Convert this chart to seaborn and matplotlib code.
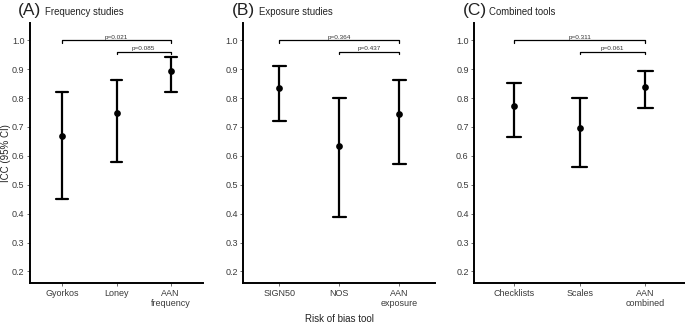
import numpy as np
import pandas as pd
import seaborn as sns
import matplotlib.pyplot as plt

# ------------------------------------------------------------
# Data (ICC with 95% CI)
# ------------------------------------------------------------
freq_tools = ["Gyorkos", "Loney", "AAN\nfrequency"]
freq_icc = [0.669, 0.747, 0.893]
freq_lo = [0.450, 0.580, 0.822]
freq_hi = [0.822, 0.864, 0.941]
freq_p = ["p=0.021", "p=0.085"]

expo_tools = ["SIGN50", "NOS", "AAN\nexposure"]
expo_icc = [0.835, 0.634, 0.744]
expo_lo = [0.720, 0.387, 0.571]
expo_hi = [0.912, 0.801, 0.863]
expo_p = ["p=0.364", "p=0.437"]

comb_tools = ["Checklists", "Scales", "AAN\ncombined"]
comb_icc = [0.772, 0.698, 0.837]
comb_lo = [0.665, 0.561, 0.765]
comb_hi = [0.852, 0.801, 0.894]
comb_p = ["p=0.311", "p=0.061"]

panels = [
    ("(A)", "Frequency studies", freq_tools, freq_icc, freq_lo, freq_hi, freq_p),
    ("(B)", "Exposure studies", expo_tools, expo_icc, expo_lo, expo_hi, expo_p),
    ("(C)", "Combined tools", comb_tools, comb_icc, comb_lo, comb_hi, comb_p),
]

# axes boxes in figure fraction (panels get wider left to right)
boxes = [
    [0.0438, 0.123, 0.2526, 0.807],
    [0.3552, 0.123, 0.2799, 0.807],
    [0.6924, 0.123, 0.3076, 0.807],
]
title_x = [0.026, 0.339, 0.675]

sns.set_theme(style="white")
plt.rcParams["font.family"] = ["Liberation Sans", "DejaVu Sans"]

fig = plt.figure(figsize=(6.85, 3.23), dpi=100)

for i, (tag, name, tools, icc, lo, hi, pvals) in enumerate(panels):
    ax = fig.add_axes(boxes[i])

    # long table: lower, estimate, upper per tool -> median = estimate, range = CI
    df = pd.DataFrame({
        "tool": np.repeat(tools, 3),
        "value": np.ravel(np.column_stack([lo, icc, hi])),
    })

    sns.pointplot(
        data=df, x="tool", y="value", order=tools,
        estimator="median", errorbar=lambda v: (v.min(), v.max()),
        linestyle="none", color="black", capsize=0.22,
        markersize=2.8, err_kws={"linewidth": 1.6}, ax=ax,
    )

    # significance brackets
    for (x0, x1), yb, lab in zip([(0, 2), (1, 2)], [1.0, 0.96], pvals):
        tip = 0.008
        ax.plot([x0, x0, x1, x1], [yb - tip, yb, yb, yb - tip],
                color="black", linewidth=0.9)
        ax.text((x0 + x1) / 2, yb + 0.002, lab, ha="center", va="bottom",
                fontsize=4.6, color="#333333")

    ax.set_xlim(-0.6, 2.6)
    ax.set_ylim(0.159, 1.061)
    ax.set_yticks(np.arange(0.2, 1.01, 0.1))
    ax.set_yticklabels([f"{t:.1f}" for t in np.arange(0.2, 1.01, 0.1)])

    for s in ["top", "right"]:
        ax.spines[s].set_visible(False)
    for s in ["left", "bottom"]:
        ax.spines[s].set_color("black")
        ax.spines[s].set_linewidth(1.4)

    ax.tick_params(axis="both", length=2, width=0.6, color="#555555",
                   labelsize=6.5, labelcolor="#3a3a3a", pad=2, left=True, bottom=True)
    ax.set_xlabel("Risk of bias tool" if i == 1 else "", fontsize=7, color="#222222", labelpad=4)
    ax.set_ylabel("")
    ax.grid(False)

    fig.text(title_x[i], 0.968, tag, fontsize=12.5, ha="left", va="center", color="#222222")
    fig.text(title_x[i] + 0.039, 0.962, name, fontsize=6.9, ha="left", va="center", color="#222222")

# shared y-axis title, at the far left edge
fig.text(0.0085, 0.123 + 0.807 / 2, "ICC (95% CI)", rotation=90, fontsize=7,
         ha="center", va="center", color="#222222")

fig.savefig("out.png", dpi=100)
